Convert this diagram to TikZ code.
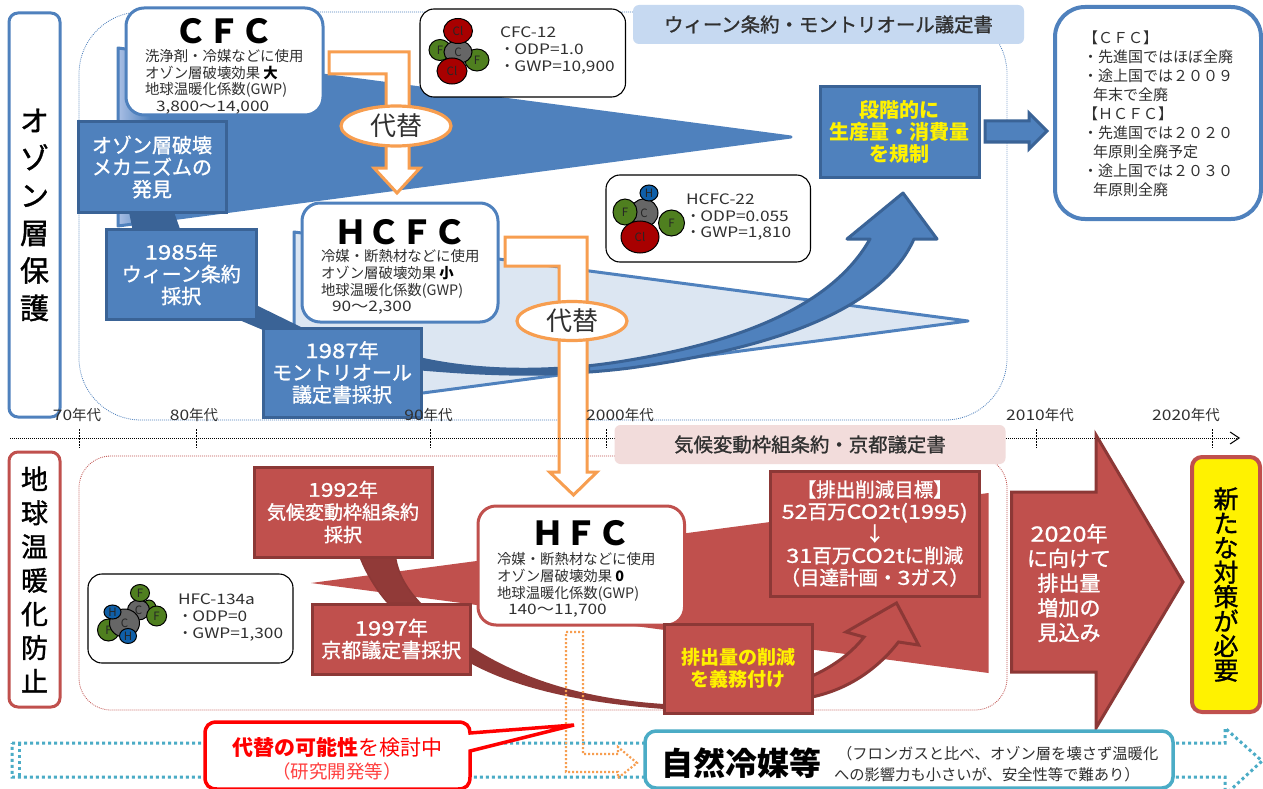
\documentclass[tikz,border=0pt]{standalone}
\usepackage{fontspec}
\setmainfont{Noto Sans CJK JP}
\newfontfamily\medfont[FakeBold=1.2]{Noto Sans CJK JP}
\newcommand\ww[1]{{\addfontfeature{FakeStretch=1.2}#1}}
\usetikzlibrary{shapes.geometric,arrows.meta}
\definecolor{bl}{HTML}{4F81BD}
\definecolor{bld}{HTML}{3A6396}
\definecolor{blt}{HTML}{DCE6F2}
\definecolor{rd}{HTML}{C0504D}
\definecolor{rdd}{HTML}{8C3836}
\definecolor{org}{HTML}{F79E50}
\definecolor{teal}{HTML}{4BACC6}
\definecolor{txt}{HTML}{303030}
\definecolor{atomg}{HTML}{4F7F1F}
\definecolor{atomr}{HTML}{A80000}
\definecolor{atomb}{HTML}{0F5FA8}
\definecolor{atomc}{HTML}{666666}
\definecolor{lightb}{HTML}{A6BDE3}
\tikzset{
  fnt/.style 2 args={font=\fontsize{#1}{#2}\selectfont},
  fntm/.style 2 args={font=\medfont\fontsize{#1}{#2}\selectfont},
  base/.style={rectangle,inner sep=0pt,outer sep=0pt,align=center},
  bluebox/.style={draw=bld,fill=bl,line width=3pt,text=white,fntm={20}{22}},
  redbox/.style={draw=rdd,fill=rd,line width=3pt,text=white,fntm={20}{22}},
  whitebox/.style={draw=black,fill=white,line width=1.1pt,rounded corners=14pt},
  bluewhite/.style={draw=bl,fill=white,line width=3pt,rounded corners=18pt},
  redwhite/.style={draw=rd,fill=white,line width=3pt,rounded corners=18pt},
  orangearrow/.style={draw=org,fill=white,line width=3pt,line join=miter},
  swap/.style={ellipse,draw=org,fill=white,line width=3.2pt,inner sep=0pt,fnt={26}{28},text=txt},
  plain/.style={inner sep=0pt,outer sep=0pt},
  lefttext/.style={plain,anchor=west,align=left,text=txt},
  atom/.style={ellipse,draw=black,line width=1pt,inner sep=0pt,fnt={11.5}{12},text=black!85},
}
\newcommand\pxbox[7][]{%
  \pgfmathsetmacro\pxw{#5-#3}\pgfmathsetmacro\pxh{#6-#4}%
  \pgfmathsetmacro\pxc{(#3+#5)/2}\pgfmathsetmacro\pxd{(#4+#6)/2}%
  \node[base,minimum width=\pxw pt,minimum height=\pxh pt,#1] (#2) at (\pxc,\pxd) {#7};}
\begin{document}
\begin{tikzpicture}[x=1pt,y=-1pt]
\useasboundingbox[fill=white] (0,0) rectangle (1263,789);

% ---------- group frames
\pxbox[draw=bl,line width=.8pt,dash pattern=on .9pt off 1.1pt,rounded corners=62pt]{ozoneframe}{79}{12}{1007}{420}{}
\pxbox[draw=rd,line width=.8pt,dash pattern=on .9pt off 1.1pt,rounded corners=32pt]{climateframe}{79}{456}{1007}{710}{}
\pxbox[fill={rgb,255:red,198;green,217;blue,241},rounded corners=6pt,fntm={19.4}{22},text=txt]{ozonebanner}{633}{5}{1024}{44}{ウィーン条約・モントリオール議定書}

% ---------- side labels
\pxbox[draw=bl,fill=white,line width=3pt,rounded corners=9pt,fntm={29}{37.5},text=black]{ozoneside}{9}{13}{60}{417}{オ\\ゾ\\ン\\層\\保\\護}
\pxbox[draw=rd,fill=white,line width=3pt,rounded corners=9pt,fntm={27}{33.7},text=black]{climateside}{9}{452}{60}{707}{地\\球\\温\\暖\\化\\防\\止}

% ---------- wedges
\fill[bl] (118,48) -- (791,137) -- (118,226) -- cycle;
\begin{scope}
  \clip (118,48) -- (791,137) -- (118,226) -- cycle;
  \shade[left color=lightb,right color=bl] (119,40) rectangle (150,230);
\end{scope}
\draw[bl,line width=3pt,line join=round] (118,48) -- (791,137) -- (118,226) -- cycle;
\draw[draw=bl,fill=blt,line width=3pt,line join=round] (294,232) -- (968,321) -- (294,410) -- cycle;
\fill[rd] (311,583) -- (988.5,493) -- (988.5,673) -- cycle;

% ---------- bands behind the blue boxes
\fill[bld] (129,212) -- (174,212) -- (180,229) -- (132.5,229) -- cycle;
\fill[bld] (256,305) -- (303,328) -- (263,330) -- (237,319) -- cycle;

% ---------- big blue arrow
\def\blueshaft{(421,359) .. controls (480,372) and (555,373) .. (630,360)
  .. controls (730,343) and (830,310) .. (870,239)
  -- (847,239) -- (903,193) -- (937,239) -- (914,239)
  .. controls (880,315) and (760,350) .. (630,368)
  .. controls (550,378) and (480,374) .. (421,369) -- cycle}
\draw[draw=bld,fill=bl,line width=3pt,line join=round] \blueshaft;
\begin{scope}
  \clip (415,340) rectangle (590,385);
  \fill[bld] \blueshaft;
\end{scope}

% ---------- red bands
\draw[draw=rdd,fill=rdd!90!rd,line width=1.5pt] (360,557) .. controls (367,575) and (378,592) .. (388,603)
  -- (420,603) .. controls (408,590) and (398,575) .. (395.5,557) -- cycle;
\fill[rdd] (470,646) .. controls (510,672) and (570,698) .. (664,704)
  -- (664,709) .. controls (570,702) and (510,685) .. (470,663) -- cycle;

% ---------- red arrow
\draw[draw=rdd,fill=rd,line width=3pt,line join=miter]
  (812,676) .. controls (830,668) and (850,655) .. (864,637)
  -- (846,632) -- (896.5,603) -- (918.6,645) -- (898.5,642)
  .. controls (875,672) and (845,690) .. (812,697) -- cycle;

% ---------- blue boxes
\pxbox[bluebox]{discovery}{78}{122}{226}{212}{オゾン層破壊\\メカニズムの\\発見}
\pxbox[bluebox]{vienna}{106.5}{229}{256}{319}{\ww{1985}年\\ウィーン条約\\採択}
\pxbox[bluebox]{montreal}{263}{328}{421}{417}{\ww{1987}年\\モントリオール\\議定書採択}
\pxbox[bluebox,text=yellow,font=\fontsize{20}{22}\selectfont\bfseries]{phase}{820}{87}{979}{177}{段階的に\\生産量・消費量\\を規制}

% ---------- small blue arrow
\draw[draw=bld,fill=bl,line width=3pt,line join=miter]
  (985,121) -- (1029,121) -- (1029,113) -- (1047,131) -- (1029,149) -- (1029,142) -- (985,142) -- cycle;

% ---------- substance boxes
\pxbox[bluewhite]{cfcbox}{126}{8}{323}{115}{}
\node[plain,font=\fontsize{33}{34}\selectfont\bfseries,text=black] (cfctitle) at (224,31) {ＣＦＣ};
\node[lefttext,fnt={14.4}{16.5}] (cfctext) at (145,82) {洗浄剤・冷媒などに使用\\オゾン層破壊効果 {\bfseries\color{black}大}\\地球温暖化係数(GWP)\\\hspace{11pt}\ww{3,800～14,000}};

\pxbox[bluewhite]{hcfcbox}{302}{203}{498}{322}{}
\node[plain,font=\fontsize{33}{34}\selectfont\bfseries,text=black] (hcfctitle) at (400,232) {ＨＣＦＣ};
\node[lefttext,fnt={14.4}{16.7}] (hcfctext) at (321,282) {冷媒・断熱材などに使用\\オゾン層破壊効果 {\bfseries\color{black}小}\\地球温暖化係数(GWP)\\\hspace{11pt}\ww{90～2,300}};

\pxbox[redwhite]{hfcbox}{478}{506}{684.5}{625}{}
\node[plain,font=\fontsize{33}{34}\selectfont\bfseries,text=black] (hfctitle) at (581,533) {ＨＦＣ};
\node[lefttext,fnt={14.4}{16.7}] (hfctext) at (497,585) {冷媒・断熱材などに使用\\オゾン層破壊効果 {\bfseries\color{black}0}\\地球温暖化係数(GWP)\\\hspace{11pt}\ww{140～11,700}};

% ---------- orange substitution arrows
\draw[orangearrow] (329,52) -- (409,52) -- (409,168) -- (420,168) -- (397,193) -- (374,168) -- (386,168) -- (386,74) -- (329,74) -- cycle;
\node[swap,minimum width=110pt,minimum height=40pt] (swapa) at (396,126) {代替};
\draw[orangearrow] (505,237) -- (587,237) -- (587,472) -- (597,472) -- (573.5,495) -- (549.5,472) -- (559,472) -- (559,266) -- (505,266) -- cycle;
\node[swap,minimum width=110pt,minimum height=39pt] (swapb) at (572,321) {代替};

% ---------- molecule cards
\pxbox[whitebox]{cfc12}{420}{9}{625.5}{97}{}
\node[atom,fill=atomg,minimum width=22pt,minimum height=21pt] (fa) at (440,50) {F};
\node[atom,fill=atomg,minimum width=24pt,minimum height=22pt] (fb) at (477,60) {F};
\node[atom,fill=atomc,minimum width=28pt,minimum height=23pt] (ca) at (458,52) {C};
\node[atom,fill=atomr,minimum width=29pt,minimum height=25pt] (cla) at (458,31) {Cl};
\node[atom,fill=atomr,minimum width=30pt,minimum height=26pt] (clb) at (452,71) {Cl};
\node[lefttext,fnt={14.4}{17}] (cfc12text) at (500,50) {\ww{CFC-12}\\ ・\ww{ODP=1.0}\\ ・\ww{GWP=10,900}};

\pxbox[whitebox]{hcfc22}{606}{175}{810.5}{262}{}
\node[atom,fill=atomc,minimum width=28pt,minimum height=28pt] (cb) at (644,213) {C};
\node[atom,fill=atomb,minimum width=18pt,minimum height=16pt] (ha) at (649,193) {H};
\node[atom,fill=atomg,minimum width=24pt,minimum height=26pt] (fc) at (625,212) {F};
\node[atom,fill=atomg,minimum width=26pt,minimum height=26pt] (fd) at (671.5,223) {F};
\node[atom,fill=atomr,minimum width=38pt,minimum height=32pt] (clc) at (640,237) {Cl};
\node[lefttext,fnt={14.4}{16.5}] (hcfc22text) at (686,217) {\ww{HCFC-22}\\ ・\ww{ODP=0.055}\\ ・\ww{GWP=1,810}};

\pxbox[whitebox]{hfc134}{88}{574}{293}{663}{}
\node[atom,fill=atomg,minimum width=14pt,minimum height=16pt] (fe) at (149,608) {};
\node[atom,fill=atomc,minimum width=22pt,minimum height=20pt] (cc) at (138.5,610) {C};
\node[atom,fill=atomg,minimum width=19pt,minimum height=17pt] (ff) at (140,593) {F};
\node[atom,fill=atomg,minimum width=20pt,minimum height=20pt] (fg) at (156.6,616) {F};
\node[atom,fill=atomg,minimum width=22pt,minimum height=22pt] (fh) at (108.5,630) {F};
\node[atom,fill=atomc,minimum width=30pt,minimum height=28pt] (cd) at (124.5,623) {C};
\node[atom,fill=atomb,minimum width=17pt,minimum height=14pt] (hb) at (112.5,612) {H};
\node[atom,fill=atomb,minimum width=17pt,minimum height=15pt] (hc) at (128,636) {H};
\node[lefttext,fnt={14.4}{17}] (hfc134text) at (178,617) {\ww{HFC-134a}\\ ・\ww{ODP=0}\\ ・\ww{GWP=1,300}};

% ---------- right note
\pxbox[draw=bl,fill=white,line width=4pt,rounded corners=30pt]{notebox}{1055}{7}{1261}{219}{}
\node[lefttext,fnt={15}{19}] (notetext) at (1083,114) {【ＣＦＣ】\\・先進国ではほぼ全廃\\・途上国では２００９\\\hspace{10pt}年末で全廃\\【ＨＣＦＣ】\\・先進国では２０２０\\\hspace{10pt}年原則全廃予定\\・途上国では２０３０\\\hspace{10pt}年原則全廃};

% ---------- timeline
\coordinate (tlstart) at (10,438);
\coordinate (tlend) at (1240,438);
\draw[black,line width=.9pt,dash pattern=on 1pt off 1pt,-{Straight Barb[length=9pt,width=12pt,line width=1pt]}] (tlstart) -- (tlend);
\foreach \tx in {79,196,430.5,606,1036,1212}
  \draw[black,line width=.9pt,dash pattern=on 1.5pt off 1.5pt] (\tx,429) -- (\tx,448);
\foreach \tn/\tx/\tl in {da/77/70,db/194/80,dc/428.5/90,dd/620/2000,de/1040/2010,df/1186/2020}
  \node[plain,fnt={14.5}{16},text=txt] (\tn) at (\tx,415) {\ww{\tl}年代};

\pxbox[fill={rgb,255:red,242;green,220;blue,219},rounded corners=6pt,fntm={19.4}{22},text=txt]{climatebanner}{614.5}{425}{1005.5}{464}{気候変動枠組条約・京都議定書}

% ---------- red boxes
\pxbox[redbox,fntm={19}{22.5}]{unfccc}{254}{467}{432}{557}{\ww{1992}年\\気候変動枠組条約\\採択}
\pxbox[redbox]{kyoto}{312.5}{604}{470}{674}{\ww{1997}年\\京都議定書採択}
\pxbox[redbox,fntm={19.5}{22}]{target}{770.5}{471}{979}{596}{【排出削減目標】\\\ww{52}百万\ww{CO2t(1995)}\\↓\\\ww{31}百万\ww{CO2t}に削減\\（目達計画・\ww{3}ガス）}
\pxbox[redbox,text=yellow,font=\fontsize{19}{22}\selectfont\bfseries]{duty}{664}{624}{812}{713}{排出量の削減\\を義務付け}

% ---------- big red arrow
\draw[draw=rdd,fill=rd,line width=3pt,line join=miter]
  (1011.5,492) -- (1096,492) -- (1096,435) -- (1183,582) -- (1096,728) -- (1096,672) -- (1011.5,672) -- cycle;
\node[plain,align=center,fntm={21}{24.7},text=white] (forecast) at (1069,583) {\ww{2020}年\\に向けて\\排出量\\増加の\\見込み};

% ---------- yellow box
\pxbox[draw=rd,fill=yellow,line width=4pt,rounded corners=10pt,fntm={25}{24.5},text=black]{newaction}{1192}{457}{1260}{712}{新\\た\\な\\対\\策\\が\\必\\要}

% ---------- bottom dotted arrows
\draw[teal,line width=3pt,dash pattern=on 3pt off 3pt,line join=miter]
  (12,743) -- (1225,743) -- (1225,728) -- (1262,761) -- (1225,795) -- (1225,777) -- (12,777) -- cycle;
\draw[teal,line width=3pt,dash pattern=on 3pt off 3pt] (19.5,743) -- (19.5,777);
\draw[org,line width=2.2pt,dash pattern=on 2pt off 2pt,line join=miter]
  (566,632) -- (583,632) -- (583,754) -- (618,754) -- (618,747) -- (637,763) -- (618,778) -- (618,772) -- (566,772) -- cycle;

% ---------- callout
\draw[red,fill=white,line width=3.5pt,line join=miter]
  (217,722) -- (458,722) .. controls (466,722) and (470,726) .. (470,733) -- (574,725) -- (470,751)
  -- (470,777) .. controls (470,785) and (466,789) .. (458,789) -- (217,789)
  .. controls (209,789) and (205,785) .. (205,777) -- (205,734) .. controls (205,726) and (209,722) .. (217,722) -- cycle;
\node[plain,align=center,fnt={21}{24},text=red] (calloutmain) at (337,747) {{\bfseries 代替の可能性}を検討中};
\node[plain,align=center,fnt={18.5}{22},text=red!75!white] (calloutsub) at (337,771) {（研究開発等）};

% ---------- natural refrigerants
\pxbox[draw=teal,fill=white,line width=3.5pt,rounded corners=11pt]{naturalbox}{645}{731}{1173}{788}{}
\node[plain,font=\fontsize{32}{34}\selectfont\bfseries,text=black] (naturaltitle) at (741,763) {自然冷媒等};
\node[plain,anchor=west,fnt={15.3}{21},align=left,text=txt] (naturaltext) at (834,764) {\hspace{3pt}（フロンガスと比べ、オゾン層を壊さず温暖化\\への影響力も小さいが、安全性等で難あり）};
\end{tikzpicture}
\end{document}
